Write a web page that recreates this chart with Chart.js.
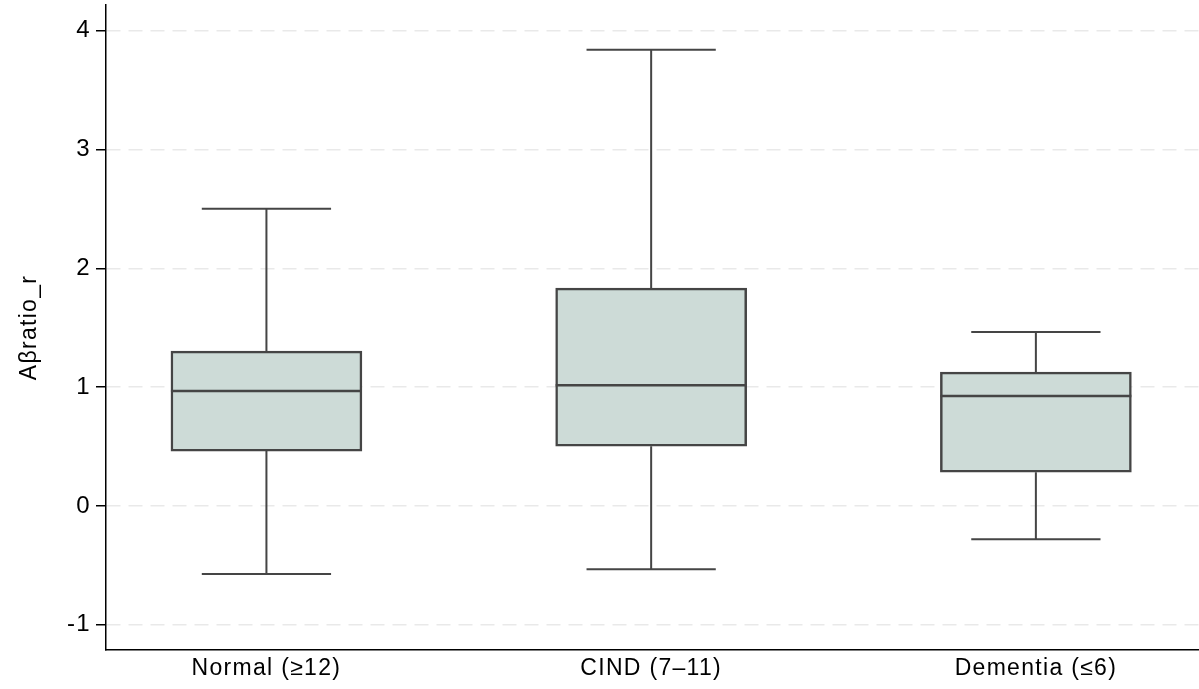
<!DOCTYPE html>
<html>
<head>
<meta charset="utf-8">
<script src="https://cdn.jsdelivr.net/npm/chart.js@4/dist/chart.umd.min.js"></script>
<style>
  html, body { margin: 0; padding: 0; background: #fff; }
  canvas { display: block; }
</style>
</head>
<body>
<canvas id="boxChart" width="1199" height="689"></canvas>
<script>
// group labels and box plot stats
const categories = ['Normal (≥12)', 'CIND (7–11)', 'Dementia (≤6)'];
const whiskerLow = [-0.573, -0.533, -0.280];
const q1 = [0.461, 0.503, 0.284];
const median = [0.966, 1.016, 0.924];
const q3 = [1.303, 1.833, 1.126];
const whiskerHigh = [2.500, 3.840, 1.463];
const yTicks = [-1, 0, 1, 2, 3, 4];

const lineColor = '#454545';
const fontFamily = 'Liberation Sans, Arial, sans-serif';

// letter spacing to get closer to the wide Stata text
const textSpacing = {
    id: 'textSpacing',
    beforeUpdate(chart) { chart.ctx.letterSpacing = '1.3px'; },
    beforeDraw(chart) { chart.ctx.letterSpacing = '1.3px'; }
};

// whiskers + caps below the boxes, median line on top
const boxParts = {
    id: 'boxParts',
    beforeDatasetsDraw(chart) {
        const {ctx, scales: {x, y}} = chart;
        ctx.save();
        ctx.strokeStyle = lineColor;
        ctx.lineWidth = 2;
        categories.forEach((c, i) => {
            const cx = x.getPixelForValue(i + 1);
            const capL = x.getPixelForValue(i + 1 - 0.168);
            const capR = x.getPixelForValue(i + 1 + 0.168);
            ctx.beginPath();
            ctx.moveTo(cx, y.getPixelForValue(q3[i]));
            ctx.lineTo(cx, y.getPixelForValue(whiskerHigh[i]));
            ctx.moveTo(cx, y.getPixelForValue(q1[i]));
            ctx.lineTo(cx, y.getPixelForValue(whiskerLow[i]));
            ctx.moveTo(capL, y.getPixelForValue(whiskerHigh[i]));
            ctx.lineTo(capR, y.getPixelForValue(whiskerHigh[i]));
            ctx.moveTo(capL, y.getPixelForValue(whiskerLow[i]));
            ctx.lineTo(capR, y.getPixelForValue(whiskerLow[i]));
            ctx.stroke();
        });
        ctx.restore();
    },
    afterDatasetsDraw(chart) {
        const {ctx, scales: {y}} = chart;
        const meta = chart.getDatasetMeta(0);
        ctx.save();
        ctx.strokeStyle = lineColor;
        ctx.lineWidth = 2.5;
        meta.data.forEach((bar, i) => {
            const half = bar.width / 2;
            const my = y.getPixelForValue(median[i]);
            ctx.beginPath();
            ctx.moveTo(bar.x - half, my);
            ctx.lineTo(bar.x + half, my);
            ctx.stroke();
        });
        ctx.restore();
    }
};

const el = document.getElementById('boxChart');
if (el) {
    const ctx = el.getContext('2d');
    new Chart(ctx, {
        type: 'bar',
        data: {
            datasets: [{
                label: 'Aβratio_r',
                data: categories.map((c, i) => ({x: i + 1, y: [q1[i], q3[i]]})),
                backgroundColor: '#cddbd7',
                borderColor: lineColor,
                borderWidth: 2.5,
                borderSkipped: false,
                barThickness: 191
            }]
        },
        options: {
            responsive: false,
            animation: false,
            layout: { padding: { top: 5, right: 0, left: 0, bottom: 0 } },
            plugins: { legend: { display: false }, tooltip: { enabled: false } },
            scales: {
                x: {
                    type: 'linear',
                    offset: false,
                    min: 0.583,
                    max: 3.424,
                    afterBuildTicks: (s) => { s.ticks = categories.map((c, i) => ({value: i + 1})); },
                    afterFit: (s) => { s.height = 39; s.paddingLeft = 0; s.paddingRight = 0; },
                    ticks: {
                        callback: (v) => categories[v - 1],
                        color: '#000',
                        font: { family: fontFamily, size: 23 },
                        padding: 5,
                        maxRotation: 0
                    },
                    grid: { offset: false, drawOnChartArea: false, drawTicks: false },
                    border: { color: '#000', width: 1.5 }
                },
                y: {
                    min: -1.213,
                    max: 4.216,
                    afterBuildTicks: (s) => { s.ticks = yTicks.map(v => ({value: v})); },
                    afterFit: (s) => { s.width = 106; s.paddingTop = 0; s.paddingBottom = 0; },
                    ticks: {
                        color: '#000',
                        font: { family: fontFamily, size: 24 },
                        padding: 5
                    },
                    grid: {
                        color: '#e9e9e9',
                        lineWidth: 1.5,
                        tickLength: 10,
                        tickColor: '#000',
                        tickWidth: 1.5
                    },
                    border: { color: '#000', width: 1.5, dash: [14, 8] },
                    title: {
                        display: true,
                        text: 'Aβratio_r',
                        color: '#000',
                        font: { family: fontFamily, size: 23 },
                        padding: { top: 16, bottom: 0 }
                    }
                }
            }
        },
        plugins: [textSpacing, boxParts]
    });
}
</script>
</body>
</html>
